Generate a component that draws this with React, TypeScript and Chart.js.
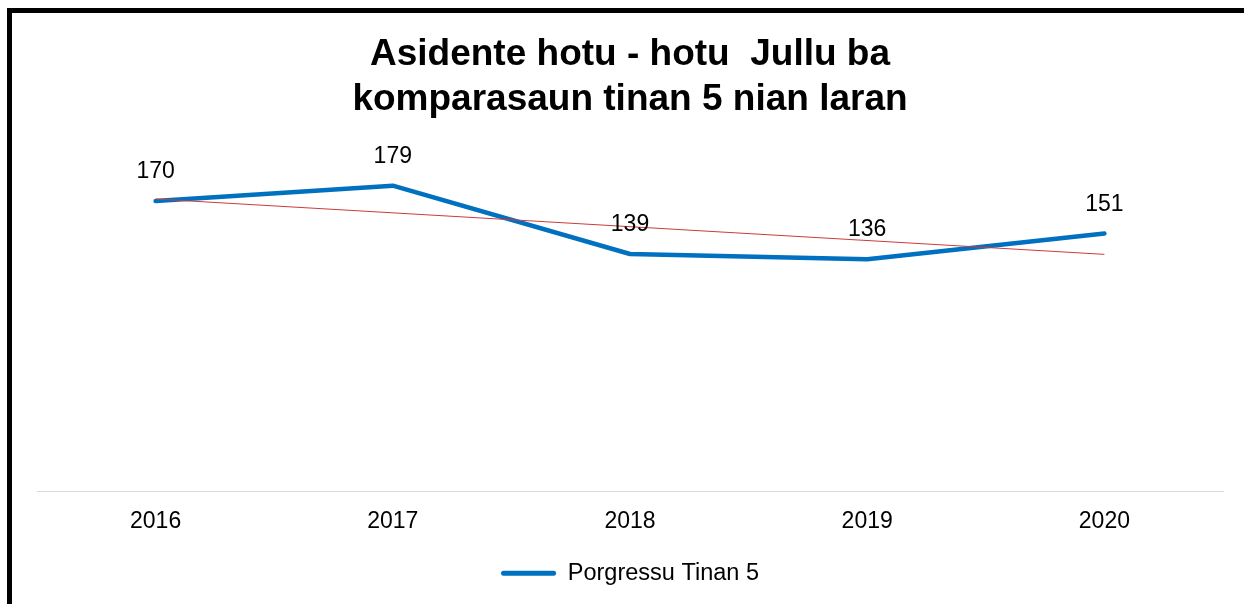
import React, { useEffect, useRef } from "react";
import { Chart, registerables } from "chart.js";

Chart.register(...registerables);

const categories = ["2016", "2017", "2018", "2019", "2020"];
const seriesName = "Porgressu Tinan 5";
const seriesValues = [170, 179, 139, 136, 151];
// trendline: start (2016) and end (2020) values
const trendValues = [171.2, null, null, null, 138.8];
const titleLines = ["Asidente hotu - hotu  Jullu ba", "komparasaun tinan 5 nian laran"];

const FONT = "'Liberation Sans', Arial, sans-serif";

const dataLabelPlugin = {
  id: "dataLabels",
  afterDatasetsDraw(chart: any) {
    const meta = chart.getDatasetMeta(0);
    const ctx = chart.ctx;
    ctx.save();
    ctx.font = `23px ${FONT}`;
    ctx.fillStyle = "#000";
    ctx.textAlign = "center";
    ctx.textBaseline = "middle";
    meta.data.forEach((pt: any, i: number) => {
      ctx.fillText(String(seriesValues[i]), pt.x, pt.y - 29);
    });
    ctx.restore();
  },
};

export default function App() {
  const ref = useRef<HTMLCanvasElement | null>(null);

  useEffect(() => {
    if (!ref.current) return;
    const chart = new Chart(ref.current, {
      type: "line",
      data: {
        labels: categories,
        datasets: [
          {
            label: seriesName,
            data: seriesValues,
            borderColor: "#0070C0",
            backgroundColor: "#0070C0",
            borderWidth: 4.5,
            pointRadius: 0,
            tension: 0,
            borderCapStyle: "round",
            borderJoinStyle: "round",
            order: 1,
          },
          {
            label: "trend",
            data: trendValues,
            borderColor: "#cc3b3b",
            backgroundColor: "#cc3b3b",
            borderWidth: 1,
            pointRadius: 0,
            spanGaps: true,
            order: 0,
          },
        ],
      },
      options: {
        responsive: false,
        animation: false,
        layout: { padding: { left: 37, right: 21, top: 0, bottom: 9 } },
        plugins: {
          tooltip: { enabled: false },
          title: {
            display: true,
            text: titleLines,
            color: "#000",
            font: { family: FONT, size: 37, weight: "bold", lineHeight: 1.2 },
            padding: { top: 33, bottom: 28 },
          },
          legend: {
            display: true,
            position: "bottom",
            labels: {
              color: "#000",
              font: { family: FONT, size: 23.5 },
              boxWidth: 55,
              boxHeight: 5,
              useBorderRadius: true,
              borderRadius: 2.5,
              filter: (item: any) => item.datasetIndex === 0,
              generateLabels: (c: any) =>
                Chart.defaults.plugins.legend.labels
                  .generateLabels(c)
                  .map((l: any) => ({ ...l, lineWidth: 0 })),
            },
          },
        },
        scales: {
          x: {
            offset: true,
            grid: { display: false, drawTicks: false },
            border: { display: true, color: "#d9d9d9", width: 1 },
            ticks: { color: "#000", font: { family: FONT, size: 23 }, padding: 16 },
            afterFit: (scale: any) => {
              scale.height = 60;
            },
          },
          y: { display: false, min: 0, max: 200 },
        },
      },
      plugins: [dataLabelPlugin],
    });
    return () => chart.destroy();
  }, []);

  return (
    <div style={{ position: "fixed", left: 0, top: 0, width: 1244, height: 604, background: "#fff", overflow: "hidden" }}>
      <canvas ref={ref} width={1244} height={604} style={{ position: "absolute", left: 0, top: 0 }} />
      <div
        style={{
          position: "absolute",
          left: 7,
          top: 8,
          width: 1244,
          height: 604,
          borderTop: "5px solid #000",
          borderLeft: "5px solid #000",
          boxSizing: "border-box",
          pointerEvents: "none",
        }}
      />
    </div>
  );
}
